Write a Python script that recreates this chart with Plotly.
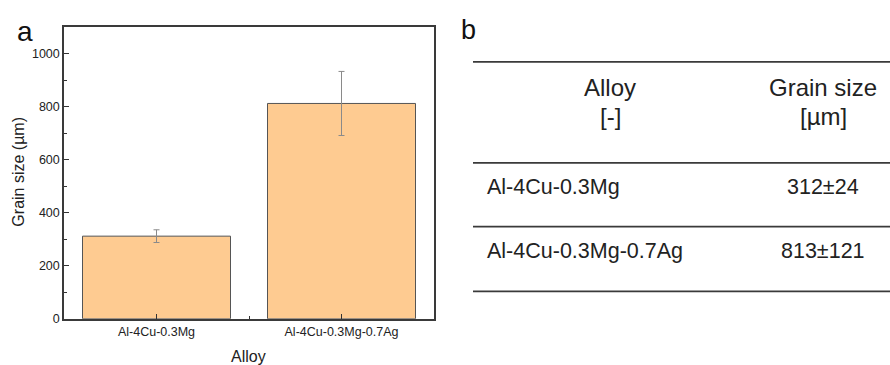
import plotly.graph_objects as go

alloys = ["Al-4Cu-0.3Mg", "Al-4Cu-0.3Mg-0.7Ag"]
grain_size = [312, 813]
grain_err = [24, 121]
y_ticks = [0, 200, 400, 600, 800, 1000]
table_header = [["Alloy", "[-]"], ["Grain size", "[µm]"]]
table_rows = [[a, f"{g}±{e}"] for a, g, e in zip(alloys, grain_size, grain_err)]

W, H = 890, 365
FONT = "Liberation Sans"

def px(x):
    return x / W

def py(y):
    return 1 - y / H

xpos = list(range(len(alloys)))

fig = go.Figure()
fig.add_trace(go.Bar(
    x=xpos, y=grain_size, width=0.8,
    marker=dict(color="#FECB91", line=dict(color="#555555", width=1)),
    error_y=dict(type="data", array=grain_err, visible=True,
                 color="#8a8a8a", thickness=1, width=3),
    showlegend=False,
))

fig.update_layout(
    width=W, height=H,
    margin=dict(l=0, r=0, t=0, b=0),
    paper_bgcolor="white", plot_bgcolor="white",
    font=dict(family=FONT, color="#222222"),
    xaxis=dict(
        domain=[px(64), px(434)], range=[-0.5, len(alloys) - 0.5],
        tickvals=xpos, ticktext=alloys, ticks="inside", ticklen=5,
        tickcolor="#333333", tickwidth=1.2,
        minor=dict(tickvals=[0.5], ticks="inside", ticklen=3, tickcolor="#333333"),
        showline=True, mirror=True, linecolor="#3a3a3a", linewidth=1.5,
        showgrid=False, zeroline=False, tickfont=dict(size=12.5, color="#222222"),
    ),
    yaxis=dict(
        domain=[py(325), py(28)], range=[0, 1100],
        tickvals=y_ticks, ticks="inside", ticklen=5, tickcolor="#333333", tickwidth=1.2,
        minor=dict(dtick=100, ticks="inside", ticklen=3, tickcolor="#333333"),
        showline=True, mirror=True, linecolor="#3a3a3a", linewidth=1.5,
        showgrid=False, zeroline=False, tickfont=dict(size=12.5, color="#222222"),
    ),
)

ann = []
# axis titles
ann.append(dict(text="Grain size (µm)", x=px(19), y=py(175), xref="paper", yref="paper",
                textangle=-90, showarrow=False, font=dict(size=16, color="#222222"),
                xanchor="center", yanchor="middle"))
ann.append(dict(text="Alloy", x=px(249), y=py(363), xref="paper", yref="paper",
                showarrow=False, font=dict(size=16, color="#222222"),
                xanchor="center", yanchor="middle"))
# panel labels
ann.append(dict(text="a", x=px(15), y=py(14), xref="paper", yref="paper", showarrow=False,
                font=dict(size=28, color="#111111"), xanchor="left", yanchor="top"))
ann.append(dict(text="b", x=px(459), y=py(13), xref="paper", yref="paper", showarrow=False,
                font=dict(size=27, color="#111111"), xanchor="left", yanchor="top"))

# table
col_x = [610, 823]
for ci, lines in enumerate(table_header):
    for li, t in enumerate(lines):
        ann.append(dict(text=t, x=px(col_x[ci]), y=py(89 + li * 30), xref="paper", yref="paper",
                        showarrow=False, font=dict(size=24, color="#222222"),
                        xanchor="center", yanchor="middle"))
row_y = [191, 256]
for ri, row in enumerate(table_rows):
    ann.append(dict(text=row[0], x=px(485), y=py(row_y[ri]), xref="paper", yref="paper",
                    showarrow=False, font=dict(size=21.5, color="#222222"),
                    xanchor="left", yanchor="middle"))
    ann.append(dict(text=row[1], x=px(col_x[1]), y=py(row_y[ri]), xref="paper", yref="paper",
                    showarrow=False, font=dict(size=21.5, color="#222222"),
                    xanchor="center", yanchor="middle"))
fig.update_layout(annotations=ann)

shapes = []
for yline in [63, 166, 231, 297]:
    shapes.append(dict(type="line", xref="paper", yref="paper",
                       x0=px(473), x1=1, y0=py(yline), y1=py(yline),
                       line=dict(color="#3a3a3a", width=1.8)))
fig.update_layout(shapes=shapes)

fig.write_html("out.html")
